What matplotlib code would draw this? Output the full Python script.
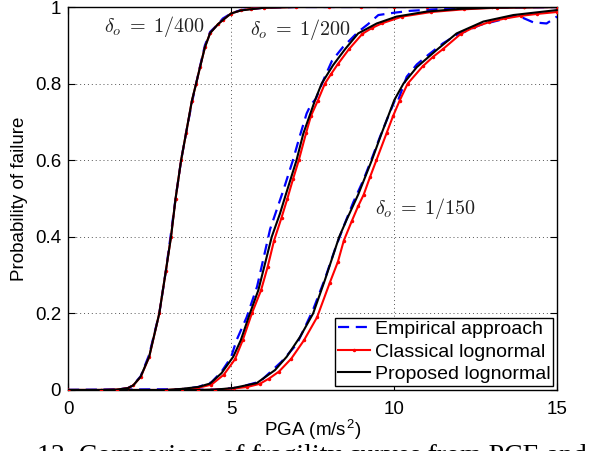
import matplotlib
matplotlib.use("Agg")
import matplotlib.pyplot as plt

plt.rcParams['font.family'] = ['Liberation Sans', 'DejaVu Sans']
plt.rcParams['mathtext.fontset'] = 'cm'

# ---- data (PGA in m/s^2, probability of failure) ----
# delta_o = 1/400
emp1_x = [0, 1.0, 1.5, 1.84, 2.0, 2.23, 2.49, 2.80, 3.0, 3.16, 3.30, 3.47, 3.62, 3.80, 3.93, 4.05, 4.2, 4.36, 4.6, 4.75, 5.0, 5.3, 6.0, 7.0, 15.0]
emp1_p = [0, 0.0, 0.001, 0.005, 0.013, 0.036, 0.092, 0.20, 0.31, 0.41, 0.50, 0.60, 0.67, 0.75, 0.80, 0.845, 0.90, 0.935, 0.955, 0.970, 0.983, 0.992, 0.998, 1.0, 1.0]
cls1_x = [0, 1.0, 1.5, 1.84, 2.0, 2.23, 2.49, 2.80, 3.0, 3.16, 3.30, 3.47, 3.62, 3.80, 3.93, 4.05, 4.2, 4.36, 4.6, 4.75, 5.0, 5.3, 5.6, 6.0, 7.0, 8.0, 9.0, 10.0, 11.0, 12.0, 13.0, 14.0, 15.0]
cls1_p = [0, 0.0, 0.001, 0.005, 0.012, 0.034, 0.086, 0.20, 0.31, 0.40, 0.50, 0.60, 0.67, 0.755, 0.80, 0.843, 0.895, 0.932, 0.955, 0.966, 0.983, 0.991, 0.995, 0.998, 1.0, 1.0, 1.0, 1.0, 1.0, 1.0, 1.0, 1.0, 1.0]
prp1_x = [0, 1.0, 1.5, 1.84, 2.0, 2.23, 2.49, 2.80, 3.0, 3.16, 3.30, 3.47, 3.62, 3.80, 3.93, 4.05, 4.2, 4.36, 4.6, 4.75, 5.0, 5.3, 6.0, 7.0, 15.0]
prp1_p = [0, 0.0, 0.001, 0.005, 0.012, 0.035, 0.087, 0.20, 0.31, 0.40, 0.50, 0.60, 0.67, 0.755, 0.80, 0.843, 0.895, 0.932, 0.955, 0.966, 0.983, 0.991, 0.998, 1.0, 1.0]

# delta_o = 1/200
emp2_x = [0, 3.5, 4.0, 4.4, 4.71, 5.0, 5.17, 5.48, 5.8, 6.2, 6.6, 6.9, 7.1, 7.32, 7.45, 7.6, 7.88, 8.1, 8.44, 8.9, 9.2, 9.52, 10.0, 10.5, 11.5, 12.5, 15.0]
emp2_p = [0, 0.002, 0.008, 0.02, 0.048, 0.085, 0.13, 0.19, 0.27, 0.42, 0.52, 0.60, 0.66, 0.722, 0.745, 0.76, 0.818, 0.86, 0.896, 0.935, 0.955, 0.979, 0.985, 0.99, 0.995, 0.998, 1.0]
cls2_x = [0, 3.0, 3.5, 4.0, 4.4, 4.78, 5.12, 5.36, 5.64, 5.92, 6.12, 6.32, 6.55, 6.73, 6.9, 7.08, 7.3, 7.45, 7.66, 7.88, 8.07, 8.27, 8.62, 9.03, 9.32, 9.62, 10.25, 11.15, 12.15, 13.15, 14.0, 15.0]
cls2_p = [0, 0.0, 0.002, 0.006, 0.014, 0.04, 0.08, 0.13, 0.20, 0.26, 0.32, 0.39, 0.45, 0.50, 0.55, 0.60, 0.67, 0.715, 0.755, 0.80, 0.825, 0.85, 0.89, 0.93, 0.945, 0.957, 0.975, 0.987, 0.994, 0.998, 0.999, 1.0]
prp2_x = [0, 3.0, 3.5, 4.0, 4.36, 4.71, 5.07, 5.3, 5.58, 5.84, 6.25, 6.5, 6.68, 7.01, 7.22, 7.58, 7.78, 8.13, 8.5, 8.9, 9.47, 10.08, 11.0, 12.0, 13.0, 15.0]
prp2_p = [0, 0.0, 0.003, 0.008, 0.017, 0.044, 0.087, 0.13, 0.20, 0.261, 0.40, 0.46, 0.51, 0.60, 0.67, 0.757, 0.80, 0.848, 0.89, 0.931, 0.957, 0.975, 0.988, 0.995, 0.998, 1.0]

# delta_o = 1/150
emp3_x = [0, 4.5, 5.2, 5.89, 6.55, 7.02, 7.3, 7.52, 7.88, 8.2, 8.45, 8.75, 9.06, 9.3, 9.57, 9.85, 10.03, 10.1, 10.39, 10.7, 11.05, 11.5, 11.92, 12.3, 12.64, 13.25, 13.76, 14.0, 14.27, 14.68, 15.0]
emp3_p = [0, 0.001, 0.006, 0.022, 0.074, 0.12, 0.17, 0.21, 0.29, 0.37, 0.426, 0.49, 0.548, 0.60, 0.661, 0.72, 0.757, 0.75, 0.818, 0.85, 0.875, 0.905, 0.927, 0.94, 0.953, 0.966, 0.979, 0.97, 0.96, 0.957, 0.975]
cls3_x = [0, 4.0, 4.5, 5.1, 5.5, 5.88, 6.17, 6.47, 6.85, 7.24, 7.64, 8.03, 8.28, 8.46, 8.7, 8.9, 9.07, 9.26, 9.46, 9.77, 9.97, 10.17, 10.42, 10.88, 11.2, 11.5, 12.05, 12.45, 12.9, 13.4, 13.9, 14.4, 15.0]
cls3_p = [0, 0.0, 0.001, 0.004, 0.008, 0.016, 0.03, 0.048, 0.082, 0.13, 0.19, 0.28, 0.335, 0.39, 0.44, 0.48, 0.51, 0.555, 0.60, 0.67, 0.715, 0.755, 0.80, 0.845, 0.87, 0.89, 0.93, 0.947, 0.96, 0.97, 0.977, 0.982, 0.987]
prp3_x = [0, 4.0, 4.5, 5.06, 5.79, 6.35, 6.71, 7.12, 7.52, 7.88, 8.32, 8.55, 8.9, 9.32, 9.62, 10.01, 10.29, 10.70, 11.31, 11.92, 12.74, 13.66, 15.0]
prp3_p = [0, 0.0, 0.001, 0.005, 0.018, 0.052, 0.087, 0.139, 0.20, 0.287, 0.40, 0.445, 0.51, 0.60, 0.67, 0.757, 0.80, 0.843, 0.888, 0.931, 0.962, 0.979, 0.992]

legend_labels = ['Empirical approach', 'Classical lognormal', 'Proposed lognormal']
annotations = [(1.1, 0.95, r'$\delta_o\;=\;1/400$'),
               (5.58, 0.94, r'$\delta_o\;=\;1/200$'),
               (9.42, 0.473, r'$\delta_o\;=\;1/150$')]
x_ticks = [0, 5, 10, 15]
y_ticks = [0, 0.2, 0.4, 0.6, 0.8, 1.0]
y_ticklabels = ['0', '0.2', '0.4', '0.6', '0.8', '1']

fig = plt.figure(figsize=(5.91, 4.51), dpi=100)
ax = fig.add_axes([68/591, 1-390/451, (557-68)/591, (390-7)/451])

emp = [(emp1_x, emp1_p), (emp2_x, emp2_p), (emp3_x, emp3_p)]
cls = [(cls1_x, cls1_p), (cls2_x, cls2_p), (cls3_x, cls3_p)]
prp = [(prp1_x, prp1_p), (prp2_x, prp2_p), (prp3_x, prp3_p)]

for i, (x, p) in enumerate(emp):
    ax.plot(x, p, color='#0000ff', lw=1.6, dashes=(5, 3),
            label=legend_labels[0] if i == 0 else None, zorder=3)
for i, (x, p) in enumerate(cls):
    ax.plot(x, p, color='#ff0000', lw=1.5, marker='.', markersize=3,
            label=legend_labels[1] if i == 0 else None, zorder=4)
for i, (x, p) in enumerate(prp):
    ax.plot(x, p, color='black', lw=1.5,
            label=legend_labels[2] if i == 0 else None, zorder=5)

for xa, ya, s in annotations:
    ax.text(xa, ya, s, fontsize=14.5, color='#222222', ha='left', va='center')

ax.set_xlim(0, 15)
ax.set_ylim(0, 1)
ax.set_xticks(x_ticks)
ax.set_yticks(y_ticks)
ax.set_yticklabels(y_ticklabels)
ax.tick_params(direction='in', top=True, right=True, length=5, width=0.8,
               labelsize=13.5)
ax.tick_params(axis='x', pad=8)
ax.tick_params(axis='y', pad=5)
ax.grid(True, linestyle=(0, (1, 3)), color='#555555', lw=0.7)
for s in ax.spines.values():
    s.set_linewidth(1.0)
ax.set_xlabel(r'PGA (m/s$^\mathregular{2}$)', fontsize=13.5, labelpad=0)
ax.set_ylabel('Probability of failure', fontsize=13.5, labelpad=5)

leg = ax.legend(loc='lower right', fontsize=14, frameon=True, fancybox=False,
                framealpha=1, edgecolor='black', handlelength=1.65,
                handletextpad=0.25, borderpad=0.15, labelspacing=0.25,
                borderaxespad=0.2)
leg.get_frame().set_linewidth(1.0)

fig.text(37/591, 1-444/451, '12. Comparison of fragility curves from PCE and',
         fontsize=20, family='Liberation Serif', ha='left', va='top')

fig.savefig('out.png', dpi=100)
